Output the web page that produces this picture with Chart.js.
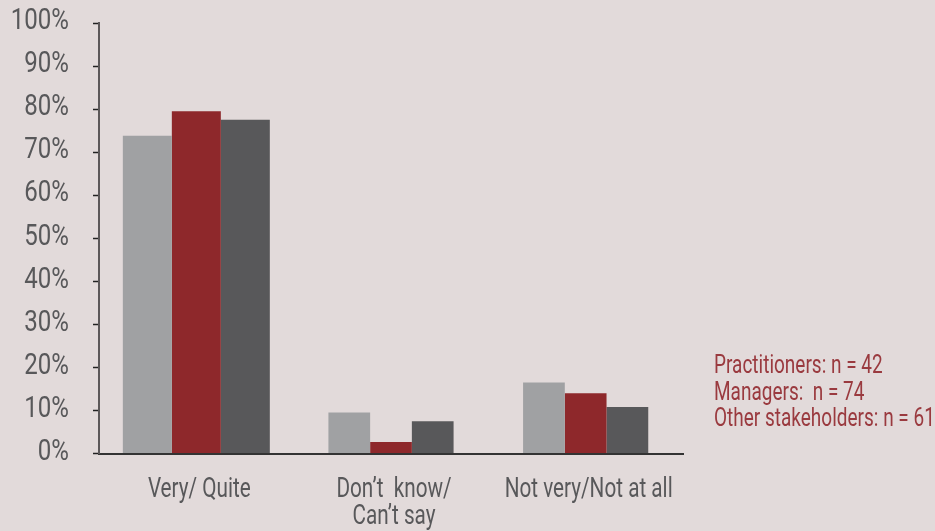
<!DOCTYPE html>
<html>
<head>
<meta charset="utf-8">
<script src="https://cdn.jsdelivr.net/npm/chart.js@4/dist/chart.umd.min.js"></script>
<style>
  html, body { margin: 0; padding: 0; background: #e2dada; }
  #wrap { width: 935px; height: 531px; }
</style>
</head>
<body>
<div id="wrap"><canvas id="chart" width="935" height="531"></canvas></div>
<script>
// Survey answers by respondent group (% of each group)
const categories = ['Very/ Quite', ['Don\u2019t  know/', 'Can\u2019t say'], 'Not very/Not at all'];
const practitioners = [73.8, 9.5, 16.5];
const managers = [79.5, 2.7, 14.0];
const otherStakeholders = [77.5, 7.5, 10.8];
const yTicks = [0, 10, 20, 30, 40, 50, 60, 70, 80, 90, 100];
const groupLabels = ['Practitioners: n = 42', 'Managers:  n = 74', 'Other stakeholders: n = 61'];

const seriesValues = [practitioners, managers, otherStakeholders];
const seriesColors = ['#a0a1a3', '#8e282b', '#58585a'];

const FONT = 'Roboto, "Noto Sans", sans-serif';
const TEXT_GREY = '#58585a';
const LEGEND_RED = '#9a3a3f';

// The first answer group is drawn with wider bars than the other two,
// so each series is split into two datasets and nulls are skipped when grouping.
const datasets = [];
seriesValues.forEach((vals, s) => {
  datasets.push({
    label: groupLabels[s],
    data: vals.map((v, i) => (i === 0 ? v : null)),
    backgroundColor: seriesColors[s],
    categoryPercentage: 0.755,
    barPercentage: 1.0,
    skipNull: true
  });
});
seriesValues.forEach((vals, s) => {
  datasets.push({
    label: groupLabels[s],
    data: vals.map((v, i) => (i === 0 ? null : v)),
    backgroundColor: seriesColors[s],
    categoryPercentage: 0.643,
    barPercentage: 1.0,
    skipNull: true
  });
});

// Draws a line of text squeezed horizontally, to get a condensed face
function condensedText(ctx, text, x, y, squeeze, align) {
  ctx.save();
  ctx.translate(x, y);
  ctx.scale(squeeze, 1);
  ctx.textAlign = align;
  ctx.fillText(text, 0, 0);
  ctx.restore();
}

// Axis labels and the plain text legend, all in a condensed style
const condensedLabels = {
  id: 'condensedLabels',
  afterDraw(chart) {
    const ctx = chart.ctx;
    const area = chart.chartArea;
    const xs = chart.scales.x;
    const ys = chart.scales.y;
    ctx.save();
    ctx.textBaseline = 'middle';
    ctx.fillStyle = TEXT_GREY;
    ctx.font = '29px ' + FONT;
    yTicks.forEach(v => {
      condensedText(ctx, v + '%', 69, ys.getPixelForValue(v) - 1, 0.83, 'right');
    });

    ctx.textBaseline = 'alphabetic';
    ctx.font = '28px ' + FONT;
    categories.forEach((lab, i) => {
      const lines = Array.isArray(lab) ? lab : [lab];
      const cx = xs.getPixelForValue(i) + 3;
      lines.forEach((line, k) => {
        condensedText(ctx, line, cx, area.bottom + 43 + k * 27.6, 0.74, 'center');
      });
    });

    ctx.fillStyle = LEGEND_RED;
    ctx.font = '25px ' + FONT;
    const lx = area.right + 31;
    groupLabels.forEach((t, i) => {
      condensedText(ctx, t, lx, 373.3 + i * 26.4, 0.76, 'left');
    });
    ctx.restore();
  }
};

new Chart(document.getElementById('chart'), {
  type: 'bar',
  data: { labels: categories, datasets },
  options: {
    responsive: false,
    animation: false,
    layout: { padding: { top: 23, right: 252, bottom: 0, left: 0 } },
    plugins: {
      legend: { display: false },
      tooltip: { enabled: false }
    },
    scales: {
      x: {
        grid: { display: false, drawTicks: false },
        border: { display: true, color: '#333333', width: 2 },
        ticks: { display: false },
        afterFit(scale) { scale.height = 77.5; }
      },
      y: {
        min: 0,
        max: 100,
        afterBuildTicks(scale) { scale.ticks = yTicks.map(v => ({ value: v })); },
        grid: {
          display: true,
          drawOnChartArea: false,
          drawTicks: true,
          tickLength: 6,
          tickColor: '#222',
          tickWidth: 1.5
        },
        border: { display: true, color: '#5c5859', width: 2 },
        ticks: { display: false },
        afterFit(scale) { scale.width = 99; }
      }
    }
  },
  plugins: [condensedLabels]
});
</script>
</body>
</html>
